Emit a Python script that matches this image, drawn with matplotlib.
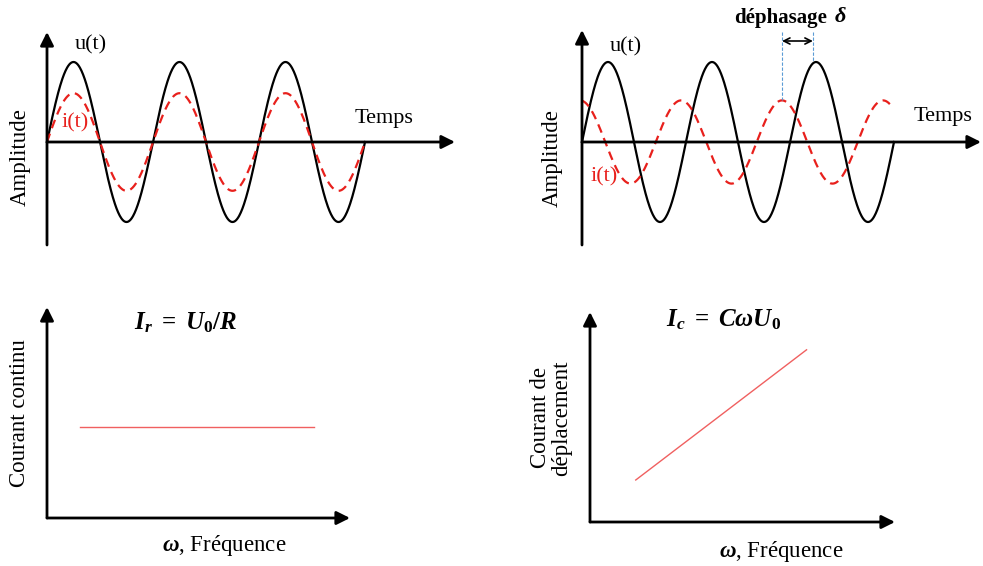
import numpy as np
import matplotlib.pyplot as plt

plt.rcParams['font.family'] = ['Liberation Serif', 'DejaVu Serif']
plt.rcParams['mathtext.fontset'] = 'custom'
plt.rcParams['mathtext.rm'] = 'Liberation Serif:bold'
plt.rcParams['mathtext.it'] = 'Liberation Serif:italic'
plt.rcParams['mathtext.bf'] = 'Liberation Serif:bold:italic'

# données
# en haut à gauche : u(t) et i(t) en phase
u_amp = 1.0
u_periods = 3.0
i_amp_phase = 0.61
# en haut à droite : i(t) en avance sur u(t)
i_amp_lead = 0.52
i_period_lead = 0.971
i_peak_lead = -0.019
i_end_lead = 2.96
# en bas
omega_r = [0.11, 0.88]
I_r = [0.43, 0.43]
omega_c = [0.15, 0.71]
I_c = [0.20, 0.82]

W, H = 983, 566
fig = plt.figure(figsize=(W / 100, H / 100), dpi=100)
FS = 16
RED = '#e8201c'


def panel(x0, x1, y0, y1):
    ax = fig.add_axes([x0 / W, 1 - y1 / H, (x1 - x0) / W, (y1 - y0) / H])
    ax.axis('off')
    return ax


def ftext(x, y, s, **kw):
    kw.setdefault('ha', 'center')
    kw.setdefault('va', 'center')
    kw.setdefault('fontsize', FS)
    fig.text(x / W, 1 - y / H, s, **kw)


def axis_arrow(ax, start, tip):
    ax.annotate('', xy=tip, xytext=start, annotation_clip=False,
                arrowprops=dict(arrowstyle='-|>', lw=2.0, color='black',
                                mutation_scale=20, shrinkA=0, shrinkB=0))


# --- haut gauche ---
ax1 = panel(47, 457, 28, 250)
ax1.set_xlim(0, 410 / 106)
ax1.set_ylim(-108 / 80, 114 / 80)
t = np.linspace(0, u_periods, 600)
ax1.plot(t, u_amp * np.sin(2 * np.pi * t), color='black', lw=1.6, clip_on=False)
ax1.plot(t, i_amp_phase * np.sin(2 * np.pi * t), color=RED, lw=1.6,
         ls=(0, (4, 2.6)), clip_on=False)
axis_arrow(ax1, (0, -103 / 80), (0, 110 / 80))
axis_arrow(ax1, (0, 0), (408 / 106, 0))

ftext(91, 45, 'u(t)')
ftext(75, 123, 'i(t)', color=RED)
ftext(384, 119, 'Temps')
ftext(20, 157, 'Amplitude', rotation=90, fontsize=16.5)

# --- haut droite ---
ax2 = panel(582, 983, 28, 250)
ax2.set_xlim(0, 401 / 104)
ax2.set_ylim(-108 / 80, 114 / 80)
t2 = np.linspace(0, u_periods, 600)
ax2.plot(t2, u_amp * np.sin(2 * np.pi * t2), color='black', lw=1.6, clip_on=False)
ti = np.linspace(0, i_end_lead, 600)
ax2.plot(ti, i_amp_lead * np.cos(2 * np.pi * (ti - i_peak_lead) / i_period_lead),
         color=RED, lw=1.6, ls=(0, (4, 2.6)), clip_on=False)
axis_arrow(ax2, (0, -103 / 80), (0, 112 / 80))
axis_arrow(ax2, (0, 0), (399 / 104, 0))

# déphasage entre le pic de i et le pic de u
t_i_peak = i_peak_lead + 2 * i_period_lead
t_u_peak = 2.22
top = 110 / 80
ax2.plot([t_i_peak, t_i_peak], [top, i_amp_lead], color='#5b9bd5', lw=0.8,
         ls=(0, (3, 1.5)), clip_on=False)
ax2.plot([t_u_peak, t_u_peak], [top, u_amp], color='#5b9bd5', lw=0.8,
         ls=(0, (3, 1.5)), clip_on=False)
ax2.annotate('', xy=(t_u_peak, 101 / 80), xytext=(t_i_peak, 101 / 80),
             annotation_clip=False,
             arrowprops=dict(arrowstyle='<->', lw=1.2, color='black',
                             mutation_scale=11, shrinkA=0, shrinkB=0))

ftext(626, 47, 'u(t)')
ftext(604, 177, 'i(t)', color=RED)
ftext(943, 116, 'Temps')
ftext(552, 158, 'Amplitude', rotation=90, fontsize=16.5)
ftext(781, 18, 'déphasage', fontweight='bold', fontsize=15)
ftext(840, 17, 'δ', fontweight='bold', fontstyle='italic', fontsize=16)

# --- bas gauche ---
ax3 = panel(47, 350, 307, 518)
ax3.set_xlim(0, 1)
ax3.set_ylim(0, 1)
ax3.plot(omega_r, I_r, color='#f06060', lw=1.0)
axis_arrow(ax3, (0, 0), (0, 1))
axis_arrow(ax3, (0, 0), (1, 0))
ftext(186, 323, r'$\mathbf{I_r}\ \mathrm{=}\ \mathbf{U}_\mathrm{0}\mathrm{/}\mathbf{R}$',
      fontsize=18)
ftext(20, 413, 'Courant continu', rotation=90, fontsize=16.5)
ftext(224, 545, r'$\mathbf{\omega}$, Fréquence', fontsize=16.5)

# --- bas droite ---
ax4 = panel(590, 895, 312, 522)
ax4.set_xlim(0, 1)
ax4.set_ylim(0, 1)
ax4.plot(omega_c, I_c, color='#f06060', lw=1.0)
axis_arrow(ax4, (0, 0), (0, 1))
axis_arrow(ax4, (0, 0), (1, 0))
ftext(724, 320, r'$\mathbf{I_c}\ \mathrm{=}\ \mathbf{C\omega U}_\mathrm{0}$', fontsize=18)
ftext(551, 418, 'Courant de\ndéplacement', rotation=90, fontsize=16.5,
      linespacing=1.0)
ftext(781, 552, r'$\mathbf{\omega}$, Fréquence', fontsize=16.5)

fig.savefig('out.png', dpi=100, facecolor='white')
